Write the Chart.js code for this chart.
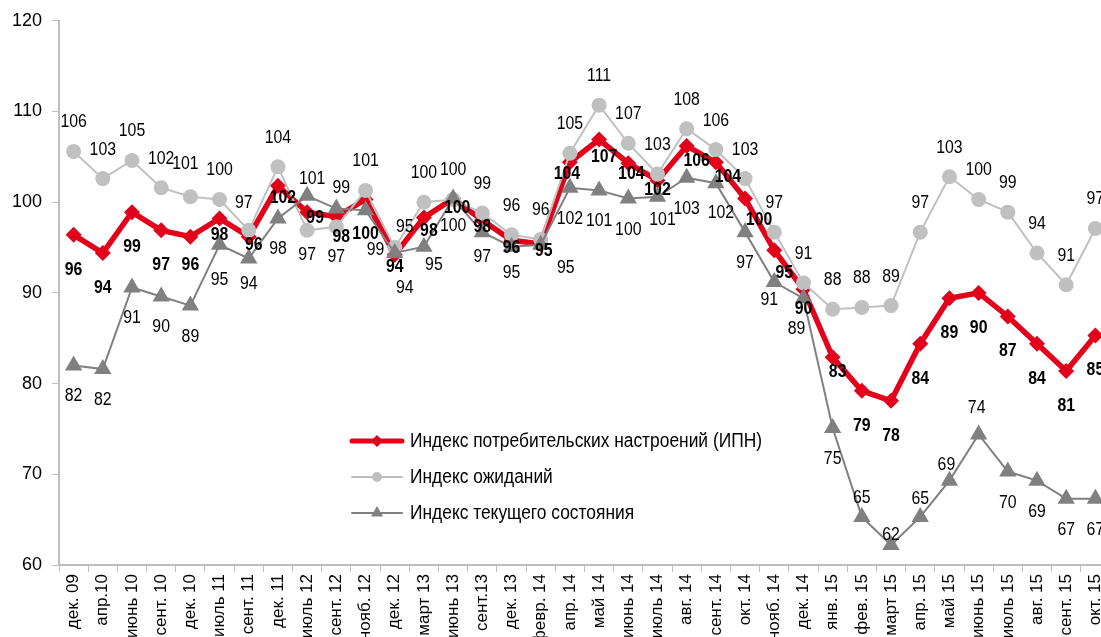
<!DOCTYPE html>
<html lang="ru">
<head>
<meta charset="utf-8">
<title>Индексы потребительских настроений</title>
<script src="https://cdn.jsdelivr.net/npm/chart.js@4/dist/chart.umd.min.js"></script>
<style>
    html, body { margin: 0; padding: 0; background: #fff; overflow: hidden; }
    .chart-wrap { position: relative; width: 1120px; height: 637px; }
</style>
</head>
<body>
<div class="chart-wrap"><canvas id="ipnChart"></canvas></div>
<script>
// Data
const categories = ['дек. 09', 'апр.10', 'июнь 10', 'сент. 10', 'дек. 10', 'июль 11', 'сент. 11', 'дек. 11',
    'июль 12', 'сент. 12', 'нояб. 12', 'дек. 12', 'март 13', 'июнь 13', 'сент.13', 'дек. 13', 'февр. 14',
    'апр. 14', 'май 14', 'июнь 14', 'июль 14', 'авг. 14', 'сент. 14', 'окт. 14', 'нояб. 14', 'дек. 14',
    'янв. 15', 'фев. 15', 'март 15', 'апр. 15', 'май 15', 'июнь 15', 'июль 15', 'авг. 15', 'сент. 15', 'окт. 15'];

const ipnValues = [96.4, 94.4, 98.9, 96.9, 96.2, 98.2, 96.2, 101.8, 98.9, 98.4, 100.3, 94.2,
    98.3, 100.4, 98.0, 95.8, 95.4, 104.4, 106.9, 104.3, 102.4, 106.2, 104.4, 100.4,
    94.7, 90.4, 82.9, 79.2, 78.1, 84.4, 89.4, 90.0, 87.4, 84.4, 81.4, 85.3];

const expectValues = [105.6, 102.6, 104.6, 101.6, 100.6, 100.3, 96.9, 103.9, 96.9, 97.3, 101.3, 95.0,
    100.0, 100.3, 98.8, 96.4, 95.9, 105.4, 110.7, 106.5, 103.1, 108.1, 105.8, 102.6,
    96.7, 91.1, 88.2, 88.4, 88.6, 96.7, 102.8, 100.3, 98.9, 94.4, 90.9, 97.1];

const currentValues = [82.0, 81.6, 90.6, 89.6, 88.6, 95.3, 93.8, 98.2, 100.7, 99.3, 99.1, 94.4,
    95.1, 100.4, 96.7, 95.1, 95.3, 101.6, 101.3, 100.4, 100.6, 102.7, 102.1, 96.7,
    91.2, 89.4, 75.1, 65.3, 62.2, 65.3, 69.3, 74.4, 70.3, 69.3, 67.3, 67.3];

const seriesNames = ['Индекс потребительских настроений (ИПН)', 'Индекс ожиданий', 'Индекс текущего состояния'];
const yTicks = [60, 70, 80, 90, 100, 110, 120];

const FONT = '"Liberation Sans", Arial, sans-serif';
const RED = '#e2001a';
const LIGHT = '#c0c0c0';
const DARK = '#808080';
const AXIS = '#bfbfbf';

// label placement (dx, dy from the point), per series, with a few hand nudges like the original
const labelLayout = [
    { bold: true, dx: 0, dy: 35, nudge: { 4: [0, 28], 5: [0, 17], 6: [5, 8], 7: [5, 12], 8: [8, 6], 9: [5, 20],
        11: [0, 12], 12: [5, 13], 13: [4, 9], 14: [0, 7], 15: [0, 8], 16: [3, 7], 17: [-3, 12], 18: [5, 17],
        19: [3, 11], 20: [0, 10], 21: [10, 15], 22: [12, 15], 23: [14, 21], 24: [10, 23], 25: [0, 20], 26: [5, 15] } },
    { bold: false, dx: 0, dy: -29, nudge: { 4: [-5, -33], 6: [-5, -27], 8: [0, 25], 9: [0, 30], 11: [10, -21] } },
    { bold: false, dx: 0, dy: 31, nudge: { 5: [0, 35], 6: [0, 26], 8: [5, -17], 9: [5, -21], 10: [10, 40],
        11: [10, 35], 12: [10, 18], 13: [0, 27], 14: [0, 25], 15: [0, 26], 16: [25, 23], 20: [5, 23], 22: [5, 30],
        24: [-5, 18], 25: [-7, 31], 27: [0, -19], 28: [0, -10], 29: [0, -18], 30: [-3, -16], 31: [-2, -26] } }
];

// the original uses a narrow font, so squeeze the text horizontally
function fillNarrow(ctx, text, x, y, sx) {
    ctx.save();
    ctx.translate(x, y);
    ctx.scale(sx, 1);
    ctx.fillText(text, 0, 0);
    ctx.restore();
}

// Data labels drawn over everything
const valueLabels = {
    id: 'valueLabels',
    afterDatasetsDraw(chart) {
        const ctx = chart.ctx;
        ctx.save();
        ctx.fillStyle = '#000';
        ctx.textAlign = 'center';
        ctx.textBaseline = 'middle';
        chart.data.datasets.forEach((ds, di) => {
            const lay = labelLayout[di];
            ctx.font = (lay.bold ? 'bold ' : '') + '18px ' + FONT;
            chart.getDatasetMeta(di).data.forEach((pt, i) => {
                const n = lay.nudge[i] || [lay.dx, lay.dy];
                fillNarrow(ctx, String(Math.round(ds.data[i])), pt.x + n[0], pt.y + n[1], 0.88);
            });
        });
        ctx.restore();
    }
};

// Legend inside the plot area
const innerLegend = {
    id: 'innerLegend',
    afterDraw(chart) {
        const ctx = chart.ctx;
        const rows = [
            { color: RED, width: 5, style: 'rectRot', r: 6, y: 441 },
            { color: LIGHT, width: 2, style: 'circle', r: 5, y: 477 },
            { color: DARK, width: 2, style: 'triangle', r: 7, y: 513 }
        ];
        ctx.save();
        ctx.font = '20px ' + FONT;
        const sx = 352 / ctx.measureText(seriesNames[0]).width;
        rows.forEach((row, i) => {
            ctx.strokeStyle = row.color;
            ctx.lineWidth = row.width;
            ctx.lineCap = 'round';
            ctx.beginPath();
            ctx.moveTo(352, row.y);
            ctx.lineTo(402, row.y);
            ctx.stroke();
            ctx.fillStyle = row.color;
            Chart.helpers.drawPoint(ctx, { pointStyle: row.style, radius: row.r, borderWidth: 0 }, 377, row.y);
            ctx.fillStyle = '#000';
            ctx.textAlign = 'left';
            ctx.textBaseline = 'middle';
            fillNarrow(ctx, seriesNames[i], 410, row.y, sx);
        });
        ctx.restore();
    }
};

function initChart() {
    const ctx = document.getElementById('ipnChart');
    new Chart(ctx, {
        type: 'line',
        data: {
            labels: categories,
            datasets: [{
                label: seriesNames[0],
                data: ipnValues,
                borderColor: RED,
                backgroundColor: RED,
                borderWidth: 5.5,
                pointStyle: 'rectRot',
                pointRadius: 8,
                pointBorderWidth: 0,
                order: 3
            }, {
                label: seriesNames[1],
                data: expectValues,
                borderColor: LIGHT,
                backgroundColor: LIGHT,
                borderWidth: 2,
                pointStyle: 'circle',
                pointRadius: 7.5,
                pointBorderWidth: 0,
                order: 2
            }, {
                label: seriesNames[2],
                data: currentValues,
                borderColor: DARK,
                backgroundColor: DARK,
                borderWidth: 2,
                pointStyle: 'triangle',
                pointRadius: 10,
                pointBorderWidth: 0,
                order: 1
            }]
        },
        options: {
            responsive: true,
            maintainAspectRatio: false,
            animation: false,
            layout: { padding: { top: 18, right: 0, left: 0, bottom: 0 } },
            plugins: {
                legend: { display: false },
                tooltip: { enabled: false }
            },
            scales: {
                x: {
                    offset: true,
                    grid: { offset: true, drawOnChartArea: false, color: AXIS, tickLength: 7, tickWidth: 1 },
                    border: { color: AXIS, width: 2 },
                    ticks: {
                        autoSkip: false,
                        minRotation: 90,
                        maxRotation: 90,
                        padding: 2,
                        color: '#000',
                        font: { family: FONT, size: 17 }
                    },
                    afterFit(scale) { scale.height = 72; }
                },
                y: {
                    min: yTicks[0],
                    max: yTicks[yTicks.length - 1],
                    afterBuildTicks(scale) { scale.ticks = yTicks.map(v => ({ value: v })); },
                    grid: { drawOnChartArea: false, color: AXIS, tickLength: 7, tickWidth: 1 },
                    border: { color: AXIS, width: 2 },
                    ticks: { padding: 10, color: '#000', font: { family: FONT, size: 18 } },
                    afterFit(scale) { scale.width = 59; }
                }
            }
        },
        plugins: [valueLabels, innerLegend]
    });
}

initChart();
</script>
</body>
</html>
